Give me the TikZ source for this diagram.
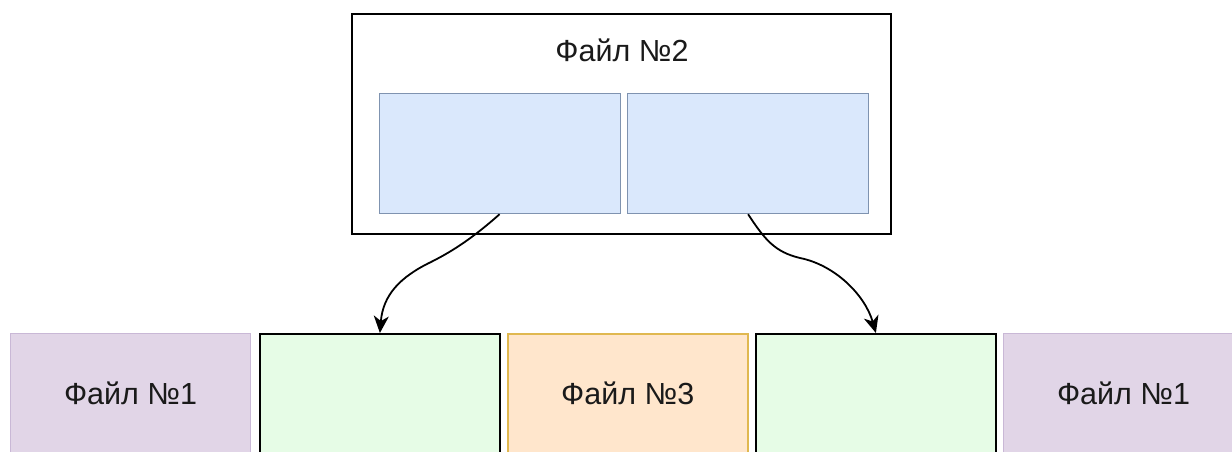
\documentclass[tikz,border=0pt]{standalone}
\usepackage{fontspec}
\setmainfont{Liberation Sans}
\usetikzlibrary{arrows.meta}
\definecolor{purplefill}{HTML}{E1D5E7}
\definecolor{purpleline}{HTML}{C9B8D6}
\definecolor{greenfill}{HTML}{E6FCE6}
\definecolor{orangefill}{HTML}{FFE6CC}
\definecolor{orangeline}{HTML}{E0B850}
\definecolor{bluefill}{HTML}{DAE8FC}
\definecolor{blueline}{HTML}{7F93B0}
\definecolor{ink}{HTML}{1A1A1A}
\tikzset{
  label font/.style={font=\fontsize{30.5}{34}\selectfont, text=ink},
  cell/.style={rectangle, inner sep=0pt, anchor=north west,
    minimum width=240pt, minimum height=120pt, label font},
  filebox/.style={cell, fill=purplefill, draw=purpleline, line width=1.2pt},
  freebox/.style={cell, fill=greenfill, draw=black, line width=1.8pt},
  thirdbox/.style={cell, fill=orangefill, draw=orangeline, line width=1.6pt},
  partbox/.style={cell, minimum width=241pt, fill=bluefill, draw=blueline, line width=1.2pt},
  link/.style={line width=1.8pt, -{Stealth[length=17pt, width=15pt, inset=5pt]}}
}
\begin{document}
\begin{tikzpicture}[x=1pt, y=-1pt]
  \useasboundingbox (0,0) rectangle (1232,451);
  \clip (0,0) rectangle (1232,451);

  % container file with its two parts
  \node[rectangle, draw=black, line width=1.8pt, fill=white, anchor=north west,
        minimum width=539pt, minimum height=220pt, inner sep=0pt] (f2) at (351,13) {};
  \node[label font] (f2title) at (622,50) {Файл №2};
  \node[partbox] (inL) at (378.5,93) {};
  \node[partbox] (inR) at (627,93) {};

  % row of clusters on the disk
  \node[filebox]  (a1) at (10,333)   {Файл №1};
  \node[freebox]  (g1) at (259,333)  {};
  \node[thirdbox] (a3) at (507,333)  {Файл №3};
  \node[freebox]  (g2) at (755,333)  {};
  \node[filebox]  (a5) at (1003,333) {Файл №1};

  % parts of the container written into free clusters
  \draw[link] (inL.south) .. controls (475,236) and (455,250) .. (431,262)
                          .. controls (400,277) and (383,295) .. (g1.north);
  \draw[link] (inR.south) .. controls (765,240) and (775,252) .. (800,258)
                          .. controls (835,265) and (865,295) .. (g2.north);
\end{tikzpicture}
\end{document}
